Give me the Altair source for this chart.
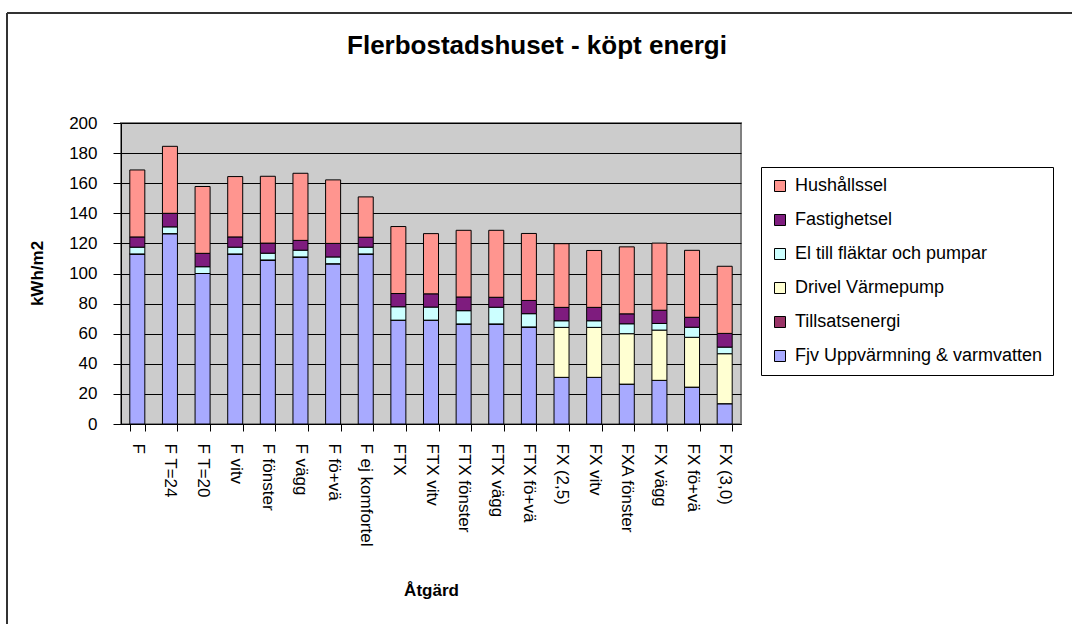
import altair as alt
import pandas as pd

categories = ["F", "F T=24", "F T=20", "F vitv", "F fönster", "F vägg", "F fö+vä",
              "F ej komfortel", "FTX", "FTX vitv", "FTX fönster", "FTX vägg", "FTX fö+vä",
              "FX (2,5)", "FX vitv", "FXA fönster", "FX vägg", "FX fö+vä", "FX (3,0)"]

series_names = ["Hushållssel", "Fastighetsel", "El till fläktar och pumpar",
                "Drivel Värmepump", "Tillsatsenergi", "Fjv Uppvärmning & varmvatten"]
series_colors = ["#FF958F", "#7E1C7E", "#CCFFFF", "#FFFFD2", "#993366", "#A8AAFF"]

fjv = [113, 126.5, 100, 113, 109, 111, 106.5, 113, 69, 69, 66.5, 66.5, 64.5,
       31, 31, 26.5, 29, 24.5, 13.5]
tillsats = [0] * 19
drivel = [0] * 13 + [33.2, 33.2, 33.5, 33.4, 33.1, 33.2]
el = [4.5, 4.5, 4.5, 4.5, 4.5, 4.5, 4.5, 4.5, 8.9, 8.7, 8.8, 11.1, 8.8,
      4.4, 4.4, 6.6, 4.4, 6.7, 4.4]
fastighet = [6.8, 9, 8.9, 6.8, 6.7, 6.5, 9, 6.6, 8.8, 8.8, 9.1, 6.6, 8.8,
             8.9, 8.9, 6.6, 8.8, 6.6, 9.1]
hushall = [44.5, 44.5, 44.4, 40.1, 44.4, 44.6, 42.2, 26.8, 44.5, 40, 44.3, 44.5, 44.5,
           42.3, 37.8, 44.5, 44.6, 44.5, 44.6]

y_ticks = list(range(0, 201, 20))

# stack order: bottom first
stack = [("Fjv Uppvärmning & varmvatten", fjv), ("Tillsatsenergi", tillsats),
         ("Drivel Värmepump", drivel), ("El till fläktar och pumpar", el),
         ("Fastighetsel", fastighet), ("Hushållssel", hushall)]

rows = []
for order, (name, vals) in enumerate(stack):
    for c, v in zip(categories, vals):
        rows.append({"Åtgärd": c, "serie": name, "värde": v, "ordning": order})
df = pd.DataFrame(rows)

FONT = "Liberation Sans"

bars = alt.Chart(df).mark_bar(stroke="black", strokeWidth=1, opacity=1).encode(
    x=alt.X("Åtgärd:N", sort=categories,
            scale=alt.Scale(paddingInner=0.54, paddingOuter=0.27),
            axis=alt.Axis(title="Åtgärd", labelAngle=90, labelAlign="left",
                          labelBaseline="middle", labelFontSize=17, labelFont=FONT,
                          labelColor="black", labelPadding=12, tickBand="extent",
                          tickSize=7, tickColor="black", domainColor="black",
                          grid=False, titleFont=FONT, titleFontSize=17,
                          titleFontWeight="bold", titleColor="black",
                          titleY=158, titleBaseline="top")),
    y=alt.Y("sum(värde):Q", stack="zero",
            scale=alt.Scale(domain=[0, 200], nice=False),
            axis=alt.Axis(title="kWh/m2", values=y_ticks, labelFontSize=17,
                          labelFont=FONT, labelColor="black", labelPadding=16,
                          tickSize=8, tickColor="black", domainColor="black",
                          gridColor="black", gridWidth=1, gridOpacity=1,
                          titleFont=FONT, titleFontSize=17, titleFontWeight="bold",
                          titleColor="black", titleX=-84, titleY=150,
                          titleBaseline="middle", titleAlign="center", titleAngle=270)),
    color=alt.Color("serie:N", title=None,
                    scale=alt.Scale(domain=series_names, range=series_colors),
                    legend=alt.Legend(orient="none", legendX=640, legendY=44,
                                      strokeColor="black", fillColor="white",
                                      padding=10, symbolType="square", symbolSize=121,
                                      symbolStrokeColor="black", symbolStrokeWidth=1,
                                      symbolOpacity=1, labelFontSize=18, labelFont=FONT,
                                      labelColor="black", rowPadding=16, labelOffset=6,
                                      labelLimit=400)),
    order=alt.Order("ordning:Q", sort="ascending"),
)

frame_df = pd.DataFrame({"a": [0]})
top_border = alt.Chart(frame_df).mark_rule(color="#333333", strokeWidth=2).encode(
    x=alt.value(-114), x2=alt.value(960), y=alt.value(-110))
left_border = alt.Chart(frame_df).mark_rule(color="#333333", strokeWidth=2).encode(
    x=alt.value(-114), y=alt.value(-110), y2=alt.value(510))

chart = alt.layer(bars, top_border, left_border).properties(
    width=620, height=301,
    autosize=alt.AutoSizeParams(type="none"),
    padding={"left": 121, "top": 123, "right": 331, "bottom": 200},
    title=alt.TitleParams("Flerbostadshuset - köpt energi", font=FONT, fontSize=26,
                          fontWeight="bold", color="black", anchor="middle",
                          dx=106, dy=68, offset=0, baseline="alphabetic"),
).configure_view(fill="#CCCCCC", stroke="#808080", strokeWidth=2)

chart.save("out.html", embed_options={"renderer": "svg", "actions": False})
